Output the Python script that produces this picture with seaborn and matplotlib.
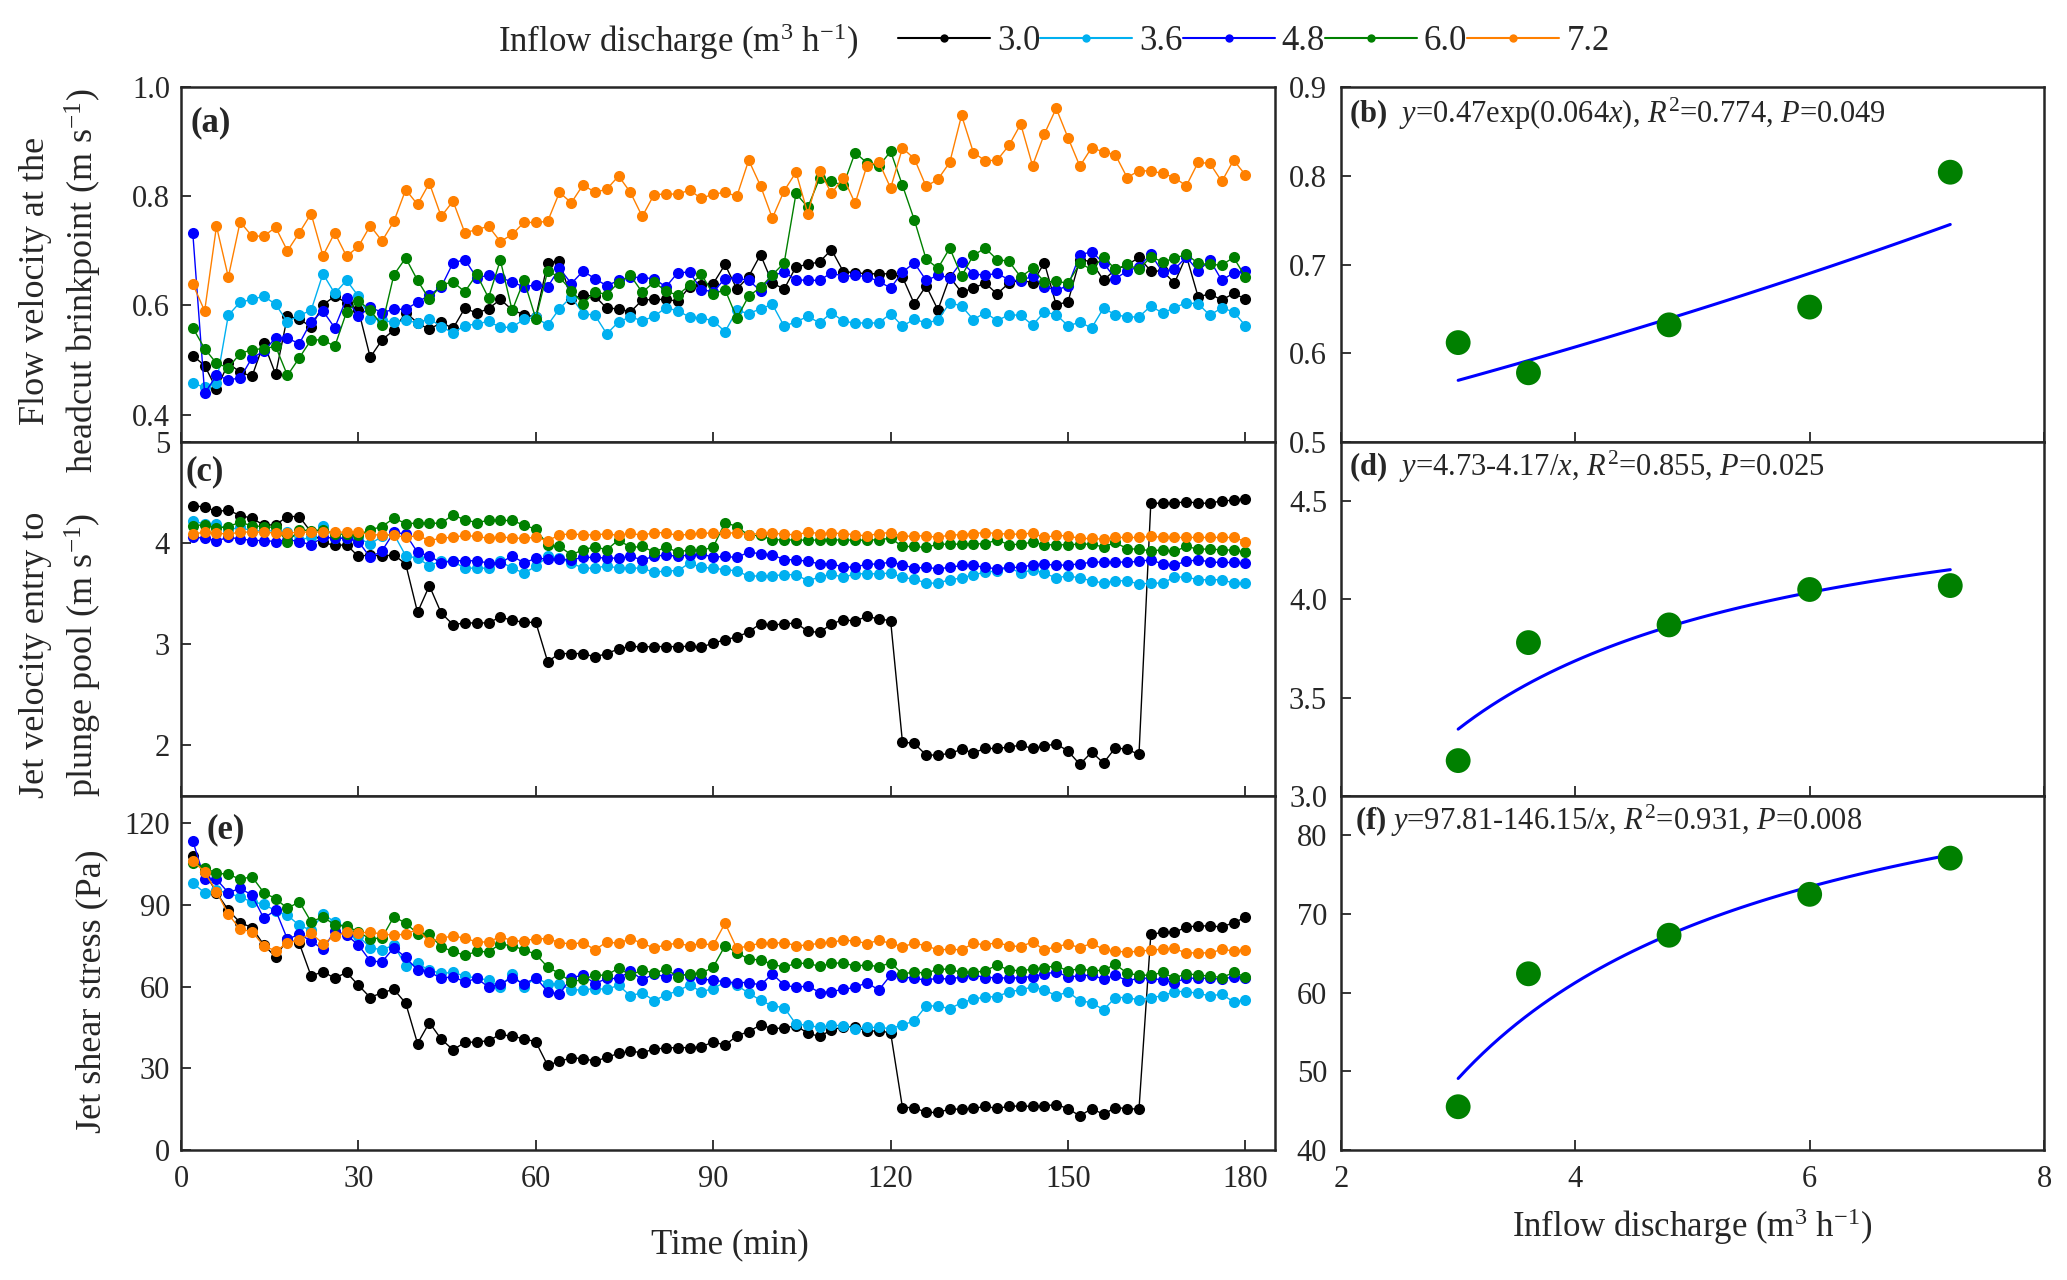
import numpy as np
import pandas as pd
import seaborn as sns
import matplotlib.pyplot as plt
from matplotlib.lines import Line2D
from matplotlib.ticker import FormatStrFormatter

# ---------------- data ----------------
time = np.arange(2, 181, 2)          # min, one reading every 2 min
discharge = ["3.0", "3.6", "4.8", "6.0", "7.2"]
q_values = [3.0, 3.6, 4.8, 6.0, 7.2]

# (a) flow velocity at the headcut brinkpoint (m s-1)
brink_30 = [0.508, 0.490, 0.447, 0.494, 0.478, 0.470, 0.531, 0.474, 0.580, 0.576, 0.560, 0.601, 0.617, 0.605, 0.592,
            0.505, 0.537, 0.555, 0.587, 0.568, 0.556, 0.569, 0.558, 0.595, 0.586, 0.594, 0.611, 0.592, 0.583, 0.579,
            0.678, 0.682, 0.612, 0.619, 0.617, 0.595, 0.594, 0.588, 0.610, 0.611, 0.611, 0.608, 0.634, 0.638, 0.640,
            0.675, 0.630, 0.653, 0.693, 0.641, 0.630, 0.671, 0.675, 0.680, 0.702, 0.662, 0.660, 0.658, 0.658, 0.658,
            0.652, 0.603, 0.636, 0.592, 0.652, 0.624, 0.632, 0.641, 0.621, 0.641, 0.646, 0.642, 0.678, 0.601, 0.607,
            0.684, 0.680, 0.646, 0.666, 0.674, 0.688, 0.663, 0.663, 0.641, 0.691, 0.616, 0.621, 0.610, 0.622, 0.612]
brink_36 = [0.458, 0.450, 0.458, 0.582, 0.606, 0.611, 0.617, 0.602, 0.570, 0.582, 0.591, 0.658, 0.622, 0.646, 0.617,
            0.576, 0.573, 0.569, 0.573, 0.568, 0.576, 0.561, 0.550, 0.563, 0.566, 0.571, 0.560, 0.560, 0.575, 0.578,
            0.564, 0.594, 0.616, 0.585, 0.582, 0.548, 0.570, 0.579, 0.572, 0.580, 0.596, 0.590, 0.579, 0.577, 0.572,
            0.552, 0.591, 0.585, 0.594, 0.602, 0.562, 0.570, 0.580, 0.568, 0.587, 0.571, 0.568, 0.568, 0.568, 0.585,
            0.562, 0.575, 0.568, 0.573, 0.605, 0.599, 0.574, 0.587, 0.572, 0.583, 0.582, 0.564, 0.588, 0.583, 0.563,
            0.569, 0.559, 0.595, 0.583, 0.579, 0.579, 0.599, 0.586, 0.596, 0.605, 0.603, 0.582, 0.596, 0.588, 0.563]
brink_48 = [0.732, 0.439, 0.472, 0.464, 0.467, 0.504, 0.516, 0.541, 0.540, 0.530, 0.570, 0.590, 0.559, 0.613, 0.580,
            0.597, 0.587, 0.593, 0.593, 0.606, 0.619, 0.634, 0.678, 0.684, 0.651, 0.655, 0.651, 0.643, 0.634, 0.638,
            0.634, 0.668, 0.640, 0.663, 0.649, 0.636, 0.646, 0.652, 0.651, 0.649, 0.634, 0.660, 0.661, 0.629, 0.625,
            0.649, 0.650, 0.646, 0.627, 0.655, 0.661, 0.647, 0.646, 0.646, 0.660, 0.653, 0.655, 0.653, 0.644, 0.632,
            0.661, 0.678, 0.646, 0.655, 0.651, 0.680, 0.658, 0.655, 0.659, 0.647, 0.645, 0.654, 0.634, 0.628, 0.636,
            0.693, 0.698, 0.678, 0.649, 0.663, 0.671, 0.694, 0.661, 0.666, 0.689, 0.663, 0.683, 0.646, 0.660, 0.663]
brink_60 = [0.559, 0.521, 0.494, 0.486, 0.512, 0.519, 0.521, 0.525, 0.472, 0.504, 0.537, 0.537, 0.525, 0.588, 0.609,
            0.591, 0.564, 0.656, 0.687, 0.646, 0.611, 0.638, 0.643, 0.625, 0.657, 0.614, 0.683, 0.591, 0.646, 0.576,
            0.663, 0.652, 0.627, 0.603, 0.625, 0.620, 0.642, 0.655, 0.624, 0.643, 0.626, 0.619, 0.637, 0.657, 0.621,
            0.629, 0.577, 0.617, 0.633, 0.656, 0.678, 0.805, 0.780, 0.833, 0.827, 0.820, 0.880, 0.861, 0.855, 0.882,
            0.820, 0.757, 0.685, 0.668, 0.705, 0.654, 0.692, 0.705, 0.684, 0.681, 0.652, 0.668, 0.643, 0.644, 0.641,
            0.677, 0.666, 0.689, 0.666, 0.675, 0.666, 0.689, 0.680, 0.686, 0.694, 0.677, 0.675, 0.674, 0.688, 0.652]
brink_72 = [0.639, 0.590, 0.745, 0.652, 0.753, 0.727, 0.727, 0.743, 0.700, 0.733, 0.768, 0.691, 0.733, 0.690, 0.708,
            0.746, 0.718, 0.754, 0.812, 0.785, 0.824, 0.763, 0.791, 0.733, 0.739, 0.745, 0.717, 0.730, 0.752, 0.752,
            0.754, 0.807, 0.788, 0.821, 0.807, 0.813, 0.837, 0.807, 0.763, 0.803, 0.804, 0.804, 0.811, 0.796, 0.804,
            0.807, 0.800, 0.866, 0.819, 0.760, 0.810, 0.844, 0.768, 0.847, 0.805, 0.834, 0.787, 0.856, 0.863, 0.815,
            0.888, 0.869, 0.818, 0.831, 0.862, 0.948, 0.880, 0.865, 0.866, 0.893, 0.932, 0.856, 0.914, 0.961, 0.907,
            0.855, 0.889, 0.881, 0.876, 0.834, 0.847, 0.846, 0.842, 0.834, 0.819, 0.862, 0.860, 0.827, 0.866, 0.839]

# (c) jet velocity entry to plunge pool (m s-1)
jet_30 = [4.368, 4.359, 4.313, 4.326, 4.273, 4.247, 4.178, 4.181, 4.263, 4.263, 4.109, 4.007, 3.977, 3.984, 3.868,
          3.885, 3.870, 3.885, 3.793, 3.316, 3.579, 3.309, 3.194, 3.211, 3.211, 3.211, 3.270, 3.237, 3.217, 3.217,
          2.829, 2.908, 2.908, 2.908, 2.875, 2.908, 2.954, 2.980, 2.974, 2.977, 2.977, 2.977, 2.980, 2.974, 3.010,
          3.046, 3.072, 3.122, 3.204, 3.191, 3.201, 3.211, 3.128, 3.118, 3.201, 3.243, 3.230, 3.276, 3.250, 3.234,
          2.033, 2.020, 1.905, 1.905, 1.921, 1.961, 1.928, 1.970, 1.970, 1.984, 2.003, 1.970, 1.993, 2.016, 1.944,
          1.813, 1.934, 1.826, 1.977, 1.961, 1.911, 4.395, 4.395, 4.395, 4.411, 4.395, 4.395, 4.418, 4.424, 4.441]
jet_36 = [4.220, 4.188, 4.188, 4.132, 4.155, 4.122, 4.122, 4.122, 4.109, 4.033, 4.056, 4.174, 4.049, 4.049, 4.049,
          3.993, 4.066, 4.089, 3.875, 3.852, 3.776, 3.826, 3.819, 3.753, 3.753, 3.753, 3.819, 3.753, 3.704, 3.770,
          3.868, 3.852, 3.803, 3.753, 3.753, 3.776, 3.753, 3.753, 3.753, 3.711, 3.727, 3.727, 3.803, 3.760, 3.753,
          3.737, 3.727, 3.671, 3.678, 3.678, 3.688, 3.688, 3.628, 3.665, 3.694, 3.661, 3.697, 3.697, 3.697, 3.704,
          3.661, 3.645, 3.605, 3.605, 3.638, 3.655, 3.688, 3.711, 3.727, 3.760, 3.704, 3.737, 3.704, 3.655, 3.678,
          3.655, 3.628, 3.605, 3.628, 3.628, 3.595, 3.605, 3.605, 3.665, 3.665, 3.638, 3.638, 3.638, 3.605, 3.605]
jet_48 = [4.059, 4.049, 4.023, 4.056, 4.043, 4.026, 4.026, 4.016, 4.033, 4.016, 3.984, 4.059, 4.049, 4.049, 4.016,
          3.859, 3.924, 4.109, 4.089, 3.908, 3.875, 3.803, 3.826, 3.826, 3.826, 3.803, 3.803, 3.875, 3.803, 3.852,
          3.842, 3.842, 3.836, 3.859, 3.859, 3.852, 3.852, 3.868, 3.836, 3.868, 3.885, 3.868, 3.885, 3.891, 3.862,
          3.868, 3.859, 3.911, 3.895, 3.885, 3.836, 3.836, 3.819, 3.796, 3.796, 3.763, 3.763, 3.793, 3.793, 3.813,
          3.786, 3.753, 3.760, 3.747, 3.760, 3.780, 3.780, 3.760, 3.747, 3.760, 3.760, 3.786, 3.793, 3.780, 3.786,
          3.793, 3.813, 3.813, 3.813, 3.813, 3.819, 3.836, 3.793, 3.786, 3.819, 3.836, 3.813, 3.809, 3.809, 3.803]
jet_60 = [4.174, 4.181, 4.148, 4.164, 4.207, 4.171, 4.164, 4.155, 4.010, 4.132, 4.122, 4.132, 4.089, 4.089, 4.082,
          4.132, 4.164, 4.247, 4.194, 4.197, 4.197, 4.197, 4.280, 4.230, 4.204, 4.224, 4.224, 4.224, 4.178, 4.138,
          3.984, 3.967, 3.885, 3.934, 3.964, 3.934, 4.033, 3.957, 3.967, 3.911, 3.961, 3.911, 3.934, 3.928, 3.961,
          4.204, 4.164, 4.076, 4.076, 4.033, 4.033, 4.030, 4.030, 4.030, 4.033, 4.030, 4.030, 4.030, 4.033, 4.049,
          3.967, 3.967, 3.957, 3.990, 3.990, 3.990, 3.993, 3.993, 4.033, 3.984, 3.990, 4.010, 3.984, 3.984, 3.984,
          3.990, 3.990, 3.961, 4.007, 3.944, 3.941, 3.924, 3.934, 3.918, 3.967, 3.941, 3.941, 3.934, 3.931, 3.911]
jet_72 = [4.089, 4.109, 4.099, 4.089, 4.109, 4.109, 4.109, 4.099, 4.099, 4.109, 4.109, 4.109, 4.109, 4.109, 4.109,
          4.082, 4.082, 4.082, 4.056, 4.076, 4.026, 4.049, 4.059, 4.076, 4.066, 4.049, 4.063, 4.049, 4.049, 4.056,
          4.023, 4.082, 4.092, 4.082, 4.082, 4.092, 4.076, 4.099, 4.076, 4.105, 4.102, 4.076, 4.089, 4.099, 4.099,
          4.099, 4.102, 4.082, 4.099, 4.099, 4.089, 4.082, 4.109, 4.095, 4.099, 4.095, 4.082, 4.072, 4.095, 4.105,
          4.066, 4.072, 4.072, 4.056, 4.082, 4.082, 4.095, 4.105, 4.095, 4.089, 4.089, 4.099, 4.056, 4.076, 4.072,
          4.046, 4.046, 4.039, 4.056, 4.056, 4.056, 4.066, 4.059, 4.056, 4.056, 4.056, 4.056, 4.056, 4.056, 4.016]

# (e) jet shear stress (Pa)
shear_30 = [108.0, 102.1, 94.5, 88.1, 83.5, 81.7, 75.3, 70.9, 77.4, 75.9, 63.9, 65.5, 63.1, 65.2, 60.5,
            56.0, 57.8, 59.0, 53.9, 39.1, 46.8, 40.7, 36.8, 39.5, 39.7, 40.1, 42.5, 41.7, 40.9, 39.7,
            31.1, 32.6, 33.8, 33.6, 32.6, 34.0, 35.5, 36.2, 35.8, 37.0, 37.5, 37.6, 37.6, 37.9, 39.7,
            38.5, 41.9, 43.5, 45.9, 44.6, 44.8, 45.6, 42.9, 41.7, 44.1, 45.2, 45.2, 43.7, 43.7, 43.1,
            15.6, 15.6, 13.8, 13.8, 15.0, 15.0, 15.3, 16.0, 15.3, 16.0, 16.2, 16.0, 16.2, 16.7, 15.2,
            12.5, 15.2, 13.1, 15.6, 15.2, 15.0, 79.2, 79.9, 79.9, 81.9, 82.3, 82.3, 81.9, 83.5, 85.4]
shear_36 = [98.0, 94.5, 95.4, 94.3, 92.9, 91.1, 90.3, 87.8, 86.2, 82.5, 80.7, 86.6, 83.8, 81.7, 78.6,
            74.3, 73.5, 75.3, 67.6, 68.5, 66.0, 64.9, 65.2, 63.9, 63.1, 62.4, 59.7, 64.8, 59.9, 63.3,
            61.1, 60.9, 58.8, 58.8, 59.3, 59.0, 60.5, 56.6, 57.8, 54.8, 57.0, 58.4, 60.6, 58.1, 59.3,
            61.7, 60.5, 57.6, 55.0, 52.9, 52.3, 46.2, 45.8, 45.0, 45.8, 45.6, 44.6, 45.0, 45.0, 44.6,
            45.9, 47.4, 52.9, 52.9, 51.9, 54.1, 55.4, 56.2, 56.3, 58.1, 58.8, 59.9, 58.8, 56.6, 58.1,
            54.8, 54.1, 51.5, 56.0, 56.0, 55.1, 56.0, 56.6, 58.2, 58.2, 57.5, 56.6, 57.2, 54.4, 55.1]
shear_48 = [113.5, 99.4, 99.4, 94.5, 96.1, 93.6, 85.1, 88.1, 77.4, 79.2, 76.8, 73.7, 80.5, 78.9, 75.3,
            69.4, 69.1, 74.3, 70.7, 66.1, 65.4, 63.0, 63.7, 61.7, 63.0, 59.9, 60.9, 63.3, 60.9, 63.3,
            58.2, 57.2, 63.3, 64.2, 61.1, 63.0, 63.0, 65.8, 62.5, 64.6, 63.6, 64.9, 63.9, 62.7, 62.4,
            61.7, 61.5, 61.5, 60.6, 64.6, 60.6, 59.7, 60.3, 57.8, 58.2, 59.0, 59.7, 61.5, 58.7, 64.2,
            63.6, 63.0, 62.4, 63.1, 62.7, 63.6, 64.3, 63.3, 63.3, 63.1, 63.3, 63.7, 64.6, 65.4, 63.6,
            63.9, 64.3, 62.7, 64.2, 62.1, 63.1, 63.1, 62.4, 61.5, 63.1, 63.1, 63.1, 62.7, 63.6, 63.3]
shear_60 = [105.5, 103.7, 101.6, 101.3, 99.4, 100.4, 94.5, 92.3, 88.7, 91.2, 83.8, 85.6, 82.7, 82.1, 80.2,
            77.4, 78.0, 85.7, 83.3, 79.5, 79.2, 74.6, 72.9, 71.5, 72.9, 72.8, 75.6, 75.0, 73.5, 71.9,
            67.2, 64.8, 61.7, 62.7, 64.2, 64.2, 66.8, 64.2, 66.1, 64.9, 66.4, 63.7, 64.8, 64.9, 67.2,
            75.0, 72.5, 70.1, 69.8, 68.2, 67.2, 68.5, 68.6, 67.4, 68.5, 68.8, 67.4, 68.1, 67.2, 68.8,
            64.6, 65.4, 64.9, 66.4, 66.4, 65.2, 65.2, 65.8, 67.9, 66.1, 65.8, 66.4, 67.0, 67.6, 65.8,
            66.6, 65.8, 66.0, 68.2, 64.9, 64.2, 64.2, 65.2, 63.1, 64.8, 64.2, 63.9, 63.3, 65.2, 63.6]
shear_72 = [106.2, 102.1, 94.9, 86.6, 81.1, 80.2, 75.0, 73.1, 75.9, 77.2, 79.6, 75.8, 78.6, 79.9, 79.6,
            80.1, 79.2, 79.0, 79.2, 81.1, 76.5, 77.8, 78.6, 77.8, 76.4, 76.4, 78.4, 76.8, 76.8, 77.6,
            77.6, 76.2, 75.6, 76.2, 73.5, 76.4, 75.9, 77.6, 75.9, 74.2, 75.4, 75.9, 75.0, 75.9, 75.2,
            83.3, 74.0, 75.0, 75.9, 75.9, 76.2, 75.0, 75.3, 75.9, 76.4, 77.0, 76.8, 75.8, 77.0, 75.9,
            74.7, 75.9, 75.0, 73.5, 73.7, 73.5, 75.9, 75.3, 76.2, 75.0, 74.7, 76.4, 73.5, 74.7, 75.6,
            74.3, 75.9, 73.7, 72.9, 72.8, 72.9, 73.5, 73.7, 74.0, 72.3, 72.5, 72.3, 73.7, 73.1, 73.5]

# (b)(d)(f) mean values against inflow discharge
mean_brink = [0.612, 0.578, 0.632, 0.652, 0.804]
mean_jet = [3.18, 3.78, 3.87, 4.05, 4.07]
mean_shear = [45.5, 62.4, 67.3, 72.5, 77.1]

palette = {"3.0": "black", "3.6": "#00B0F0", "4.8": "#0000FF", "6.0": "#008000", "7.2": "#FF8000"}


def long_frame(series):
    parts = [pd.DataFrame({"time": time, "value": v, "Q": q}) for q, v in zip(discharge, series)]
    return pd.concat(parts, ignore_index=True)


# ---------------- style ----------------
sns.set_style("ticks")
plt.rcParams["font.family"] = ["Liberation Serif", "DejaVu Serif"]
plt.rcParams["mathtext.fontset"] = "custom"
plt.rcParams["mathtext.rm"] = "Liberation Serif"
plt.rcParams["mathtext.it"] = "Liberation Serif:italic"
plt.rcParams["mathtext.bf"] = "Liberation Serif:bold"

W, H = 2067, 1280
fig = plt.figure(figsize=(W / 100, H / 100), dpi=100)


def box(x0, y0, x1, y1):
    return [x0 / W, 1 - y1 / H, (x1 - x0) / W, (y1 - y0) / H]


rows = [(87, 442), (442, 796), (796, 1150)]
ax_a = fig.add_axes(box(181, rows[0][0], 1275, rows[0][1]))
ax_c = fig.add_axes(box(181, rows[1][0], 1275, rows[1][1]))
ax_e = fig.add_axes(box(181, rows[2][0], 1275, rows[2][1]))
ax_b = fig.add_axes(box(1341, rows[0][0], 2044, rows[0][1]))
ax_d = fig.add_axes(box(1341, rows[1][0], 2044, rows[1][1]))
ax_f = fig.add_axes(box(1341, rows[2][0], 2044, rows[2][1]))

# ---------------- left: time series ----------------
left_sets = [
    (ax_a, [brink_30, brink_36, brink_48, brink_60, brink_72], (0.35, 1.0), [0.4, 0.6, 0.8, 1.0], "%.1f", "(a)", (0.009, 0.90)),
    (ax_c, [jet_30, jet_36, jet_48, jet_60, jet_72], (1.5, 5.0), [2, 3, 4, 5], "%d", "(c)", (0.004, 0.915)),
    (ax_e, [shear_30, shear_36, shear_48, shear_60, shear_72], (0, 130), [0, 30, 60, 90, 120], "%d", "(e)", (0.023, 0.905)),
]
for ax, series, ylim, yt, fmt, tag, tpos in left_sets:
    sns.lineplot(data=long_frame(series), x="time", y="value", hue="Q", hue_order=discharge,
                 palette=palette, marker="o", markersize=8, markeredgewidth=0, linewidth=1.0,
                 estimator=None, errorbar=None, legend=False, ax=ax)
    ax.set_xlim(0, 185)
    ax.set_xticks(range(0, 181, 30))
    ax.set_ylim(*ylim)
    ax.set_yticks(yt)
    ax.yaxis.set_major_formatter(FormatStrFormatter(fmt))
    ax.set_xlabel("")
    ax.set_ylabel("")
    ax.text(tpos[0], tpos[1], tag, transform=ax.transAxes, fontsize=25, fontweight="bold",
            ha="left", va="center")

# ---------------- right: means vs discharge ----------------
fit_x = np.linspace(3.0, 7.2, 60)
right_sets = [
    (ax_b, mean_brink, 0.47 * np.exp(0.064 * fit_x), (0.5, 0.9), [0.5, 0.6, 0.7, 0.8, 0.9], "%.1f",
     r"$\mathbf{(b)}$  $y$=0.47exp(0.064$x$), $R^2$=0.774, $P$=0.049", (0.011, 0.925)),
    (ax_d, mean_jet, 4.73 - 4.17 / fit_x, (3.0, 4.8), [3.0, 3.5, 4.0, 4.5], "%.1f",
     r"$\mathbf{(d)}$  $y$=4.73-4.17/$x$, $R^2$=0.855, $P$=0.025", (0.011, 0.93)),
    (ax_f, mean_shear, 97.81 - 146.15 / fit_x, (40, 85), [40, 50, 60, 70, 80], "%d",
     r"$\mathbf{(f)}$ $y$=97.81-146.15/$x$, $R^2$=0.931, $P$=0.008", (0.02, 0.93)),
]
for ax, means, fit_y, ylim, yt, fmt, label, tpos in right_sets:
    sns.lineplot(x=fit_x, y=fit_y, color="#0000FF", linewidth=2.2, ax=ax)
    sns.scatterplot(x=q_values, y=means, color="#008000", s=320, edgecolor="none", zorder=3, ax=ax)
    ax.set_xlim(2, 8)
    ax.set_xticks([2, 4, 6, 8])
    ax.set_ylim(*ylim)
    ax.set_yticks(yt)
    ax.yaxis.set_major_formatter(FormatStrFormatter(fmt))
    ax.text(tpos[0], tpos[1], label, transform=ax.transAxes, fontsize=22, ha="left", va="center")

# ---------------- axes cosmetics ----------------
for ax in [ax_a, ax_c, ax_e, ax_b, ax_d, ax_f]:
    ax.tick_params(direction="in", length=7, width=1.3, labelsize=22, top=False, right=False)
    ax.tick_params(axis="y", pad=8)
    ax.tick_params(axis="x", pad=11)
    for sp in ax.spines.values():
        sp.set_linewidth(1.8)
for ax in [ax_a, ax_c, ax_b, ax_d]:
    ax.tick_params(labelbottom=False)
for ax in [ax_b, ax_d, ax_f]:
    ax.tick_params(axis="y", pad=10)

# axis titles
fig.text(0.0298, 1 - 281 / H, "Flow velocity at the\nheadcut brinkpoint (m s$^{-1}$)", rotation=90,
         ha="center", va="center", fontsize=26, linespacing=1.35)
fig.text(0.0298, 1 - 655 / H, "Jet velocity entry to\nplunge pool (m s$^{-1}$)", rotation=90,
         ha="center", va="center", fontsize=26, linespacing=1.35)
fig.text(0.0445, 1 - 991 / H, "Jet shear stress (Pa)", rotation=90, ha="center", va="center", fontsize=26)
fig.text(730 / W, 1 - 1245 / H, "Time (min)", ha="center", va="center", fontsize=25)
fig.text(1692 / W, 1 - 1227 / H, "Inflow discharge (m$^3$ h$^{-1}$)", ha="center", va="center", fontsize=25)

# legend along the top
fig.text(498 / W, 1 - 42 / H, "Inflow discharge (m$^3$ h$^{-1}$)", ha="left", va="center", fontsize=25)
handles = [Line2D([0], [0], color=palette[q], marker="o", markersize=6, markeredgewidth=0, linewidth=1.5)
           for q in discharge]
fig.legend(handles, discharge, loc="center left", bbox_to_anchor=(898 / W, 1 - 42 / H), ncol=5,
           frameon=False, fontsize=25, handlelength=2.65, handletextpad=0.2, columnspacing=0.0,
           borderpad=0, borderaxespad=0)

fig.savefig("out.png", dpi=100)
